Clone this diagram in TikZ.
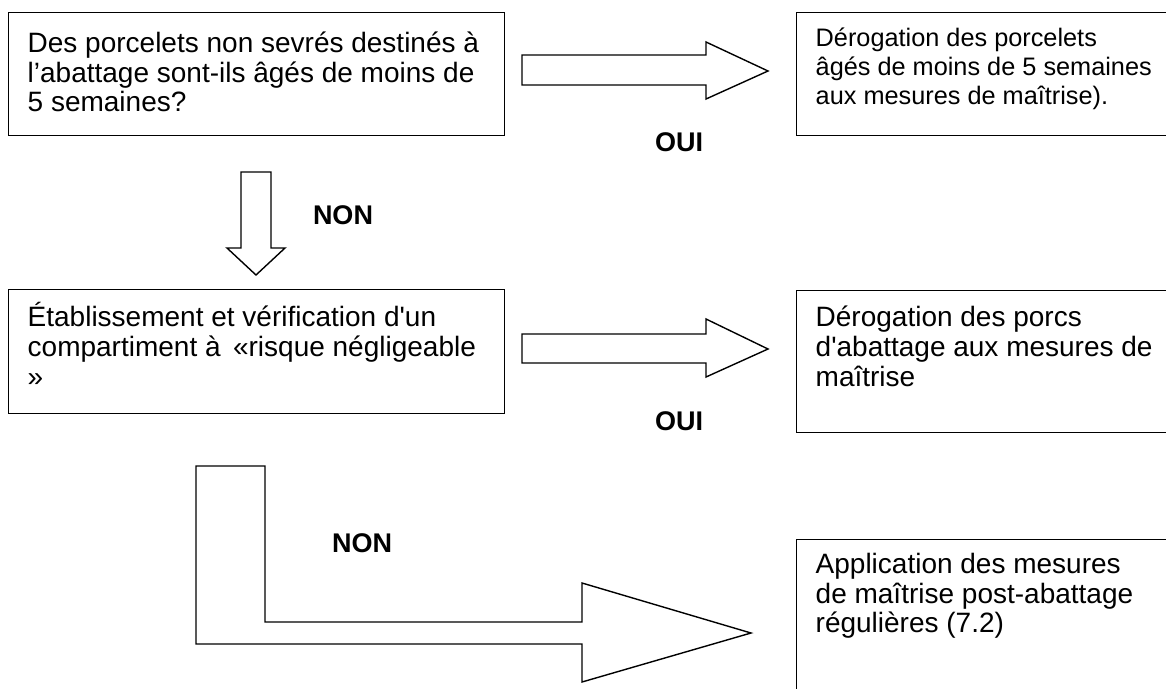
\documentclass[tikz,border=0pt]{standalone}
\usepackage{fontspec}
\setmainfont{Liberation Sans}
\newdimen\tlw
\newcommand\tline[1]{\hbox to \tlw{\hskip19pt #1\hss}}
\newcommand\btext[6]{\setlength\tlw{#1}\vbox to #2{\fontsize{#4}{#5}\selectfont\vskip #3\prevdepth=0pt #6\vfill}}
\newcommand\sq{\textquotesingle}
\tikzset{
  box/.style={draw=black, line width=1.4pt, inner sep=0pt, anchor=north west},
  lab/.style={font=\fontsize{27}{30}\selectfont\bfseries, inner sep=0pt},
  blockarrow/.style={draw=black, fill=white, line width=1.4pt, line join=miter}
}
\begin{document}
\begin{tikzpicture}[x=1pt,y=-1pt]
\useasboundingbox (0,0) rectangle (1166,688);
\fill[white] (0,0) rectangle (1166,688);

% boxes
\node[box] (q1) at (8,12) {\btext{496pt}{123pt}{10.5pt}{28pt}{29.5pt}{%
  \tline{Des porcelets non sevrés destinés à}%
  \tline{l’abattage sont-ils âgés de moins de}%
  \tline{5 semaines?}}};
\node[box] (q2) at (8,289) {\btext{496pt}{124pt}{7pt}{28pt}{30pt}{%
  \tline{Établissement et vérification d\sq un}%
  \tline{compartiment à \,«risque négligeable}%
  \tline{»}}};
\node[box] (r1) at (796,12) {\btext{380pt}{123pt}{4.5pt}{25.3pt}{29pt}{%
  \tline{Dérogation des porcelets}%
  \tline{âgés de moins de 5 semaines}%
  \tline{aux mesures de maîtrise).}}};
\node[box] (r2) at (796,290) {\btext{380pt}{142pt}{6pt}{28pt}{30pt}{%
  \tline{Dérogation des porcs}%
  \tline{d\sq abattage aux mesures de}%
  \tline{maîtrise}}};
\node[box] (r3) at (796,539) {\btext{380pt}{160pt}{4.5pt}{28pt}{29.5pt}{%
  \tline{Application des mesures}%
  \tline{de maîtrise post-abattage}%
  \tline{régulières (7.2)}}};

% block arrows
\draw[blockarrow] (241,172) -- (271,172) -- (271,248) -- (285,248) -- (256,275)
  -- (227,248) -- (241,248) -- cycle;
\draw[blockarrow] (522,55) -- (706,55) -- (706,42) -- (768,71) -- (706,99)
  -- (706,85) -- (522,85) -- cycle;
\draw[blockarrow] (522,334) -- (706,334) -- (706,319) -- (768,349) -- (706,377)
  -- (706,363) -- (522,363) -- cycle;
\draw[blockarrow] (196,466) -- (265,466) -- (265,622) -- (582,622) -- (582,583)
  -- (751,633) -- (582,682) -- (582,644) -- (196,644) -- cycle;

% labels
\node[lab] (non1) at (343,215) {NON};
\node[lab] (oui1) at (679,142) {OUI};
\node[lab] (oui2) at (679,421) {OUI};
\node[lab] (non2) at (362,543) {NON};
\end{tikzpicture}
\end{document}
